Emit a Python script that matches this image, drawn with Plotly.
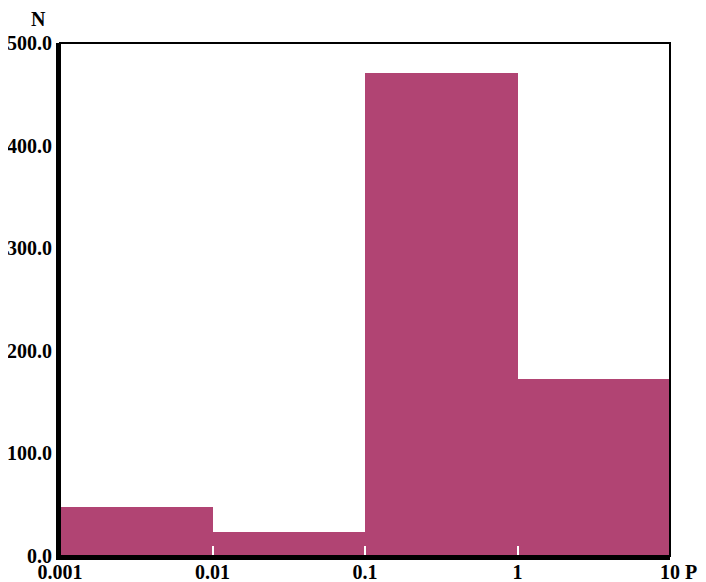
import plotly.graph_objects as go

# bin edges (log10 of P) and labels
edges_log = [-3, -2, -1, 0, 1]
edge_labels = ["0.001", "0.01", "0.1", "1", "10"]
counts = [48, 23, 471, 173]
y_ticks = [0, 100, 200, 300, 400, 500]
y_tick_labels = ["0.0", "100.0", "200.0", "300.0", "400.0", "500.0"]

centers = [(edges_log[i] + edges_log[i + 1]) / 2 for i in range(len(counts))]
widths = [edges_log[i + 1] - edges_log[i] for i in range(len(counts))]

font = dict(family="Liberation Serif", size=20, color="black", weight="bold")

fig = go.Figure(go.Bar(
    x=centers, y=counts, width=widths,
    marker=dict(color="#B14473", line=dict(width=0)),
))

# page body has an 8px default margin, so the figure is sized to fit the window
fig.update_layout(
    width=698, height=574,
    margin=dict(l=52, r=36, t=35, b=26),
    paper_bgcolor="white", plot_bgcolor="white",
    showlegend=False, bargap=0,
    xaxis=dict(
        range=[edges_log[0], edges_log[-1]],
        tickvals=edges_log, ticktext=edge_labels,
        ticks="inside", ticklen=10, tickwidth=2, tickcolor="white",
        ticklabelstandoff=-5,
        showgrid=False, zeroline=False, automargin=False,
        showline=True, linewidth=4, linecolor="black",
        tickfont=font,
    ),
    yaxis=dict(
        range=[0, 500],
        tickvals=y_ticks, ticktext=y_tick_labels,
        ticks="", ticklabelstandoff=0,
        showgrid=False, zeroline=False, automargin=False,
        showline=True, linewidth=4, linecolor="black",
        tickfont=font,
    ),
    shapes=[dict(type="rect", xref="paper", yref="paper", x0=0, x1=1, y0=0, y1=1,
                 line=dict(color="black", width=2), layer="above")],
    annotations=[
        dict(text="N", xref="paper", yref="paper", x=-0.036, y=1.0, yshift=24,
             showarrow=False, font=font, xanchor="center", yanchor="middle"),
        dict(text="P", xref="paper", yref="paper", x=1.0, y=0, xshift=21, yshift=-16,
             showarrow=False, font=font, xanchor="center", yanchor="middle"),
    ],
)

fig.write_html("out.html")
